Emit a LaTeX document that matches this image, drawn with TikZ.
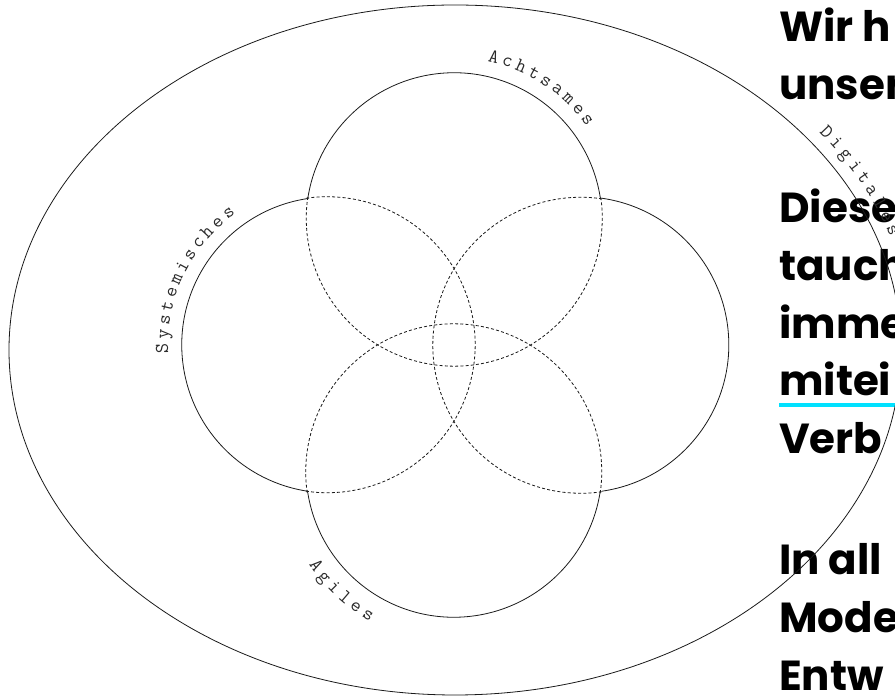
\documentclass[tikz,border=0pt]{standalone}
\usepackage{fontspec}
\newfontfamily\headfont{Poppins}
\usepackage{tikz}
\usetikzlibrary{calc,decorations.text,shapes.geometric}
\definecolor{VDInk}{HTML}{1A1A1A}
\definecolor{VDLabel}{HTML}{2A2A2A}
\definecolor{VDCyan}{HTML}{00E1FF}
\tikzset{
  vdRing/.style={
    circle, minimum size=296pt, inner sep=0pt, outer sep=0pt
  },
  vdOuter/.style={
    ellipse, draw=VDInk, line width=0.8pt, minimum width=892pt,
    minimum height=690pt, inner sep=0pt, outer sep=0pt
  },
  vdSolid/.style={draw=VDInk, line width=0.8pt},
  vdDash/.style={draw=VDInk, line width=0.8pt, dash pattern=on 3pt off 2.2pt},
  vdLine/.style={
    anchor=base west, inner sep=0pt, text=black,
    font=\headfont\bfseries\fontsize{42}{58}\selectfont
  },
  vdUnder/.style={draw=VDCyan, line width=3.5pt},
  vdLabel/.style={
    decorate, decoration={text along path, text align={fit to path},
    text color=VDLabel, text={|\ttfamily\fontsize{19.5}{19.5}\selectfont|#1}}
  }
}

\begin{document}
\begin{tikzpicture}[x=1pt, y=1pt]
  \useasboundingbox (0,0) rectangle (895,696);
  \clip (0,0) rectangle (895,696);

  % text column, cut by the right edge
  \foreach \y/\t [count=\i] in {654/Wir h, 596/unser, 473/Diese, 415/tauch,
      357/imme, 300/mitei, 242/Verb, 121/In all, 63/Mode, 5/Entw}
    \node[vdLine] (line\i) at (779,\y) {\t};
  \draw[vdUnder] ([yshift=-9pt]line6.base west) -- ++(120pt,0);

  \coordinate (mid) at (454,351);
  \node[vdOuter] (digital) at (455,346) {};
  \node[vdRing] (achtsam) at ($(mid)+(0,125)$) {};
  \node[vdRing] (system) at ($(mid)+(-125,0)$) {};
  \node[vdRing] (agil) at ($(mid)+(0,-125)$) {};
  \node[vdRing] (netz) at ($(mid)+(125,0)$) {};

  % outer rims solid, overlaps dashed
  \foreach \n/\a in {achtsam/90, system/180, agil/270, netz/0} {
    \draw[vdSolid] (\n.{\a-81.71}) arc[start angle=\a-81.71, delta angle=163.42, radius=148pt];
    \draw[vdDash] (\n.{\a+81.71}) arc[start angle=\a+81.71, delta angle=196.58, radius=148pt];
  }

  \path[vdLabel=Achtsames] ($(achtsam)+(78:162)$) arc[start angle=78, end angle=35, radius=162pt];
  \path[vdLabel=Systemisches] ($(system)+(183:161)$) arc[start angle=183, end angle=125.5, radius=161pt];
  \path[vdLabel=Agiles] ($(agil)+(213:173)$) arc[start angle=213, end angle=241, radius=173pt];
  \path[vdLabel=Digitales] ($(digital)+({459*cos(37.5)},{358*sin(37.5)})$)
    arc[start angle=37.5, end angle=18.5, x radius=459pt, y radius=358pt];
\end{tikzpicture}
\end{document}
